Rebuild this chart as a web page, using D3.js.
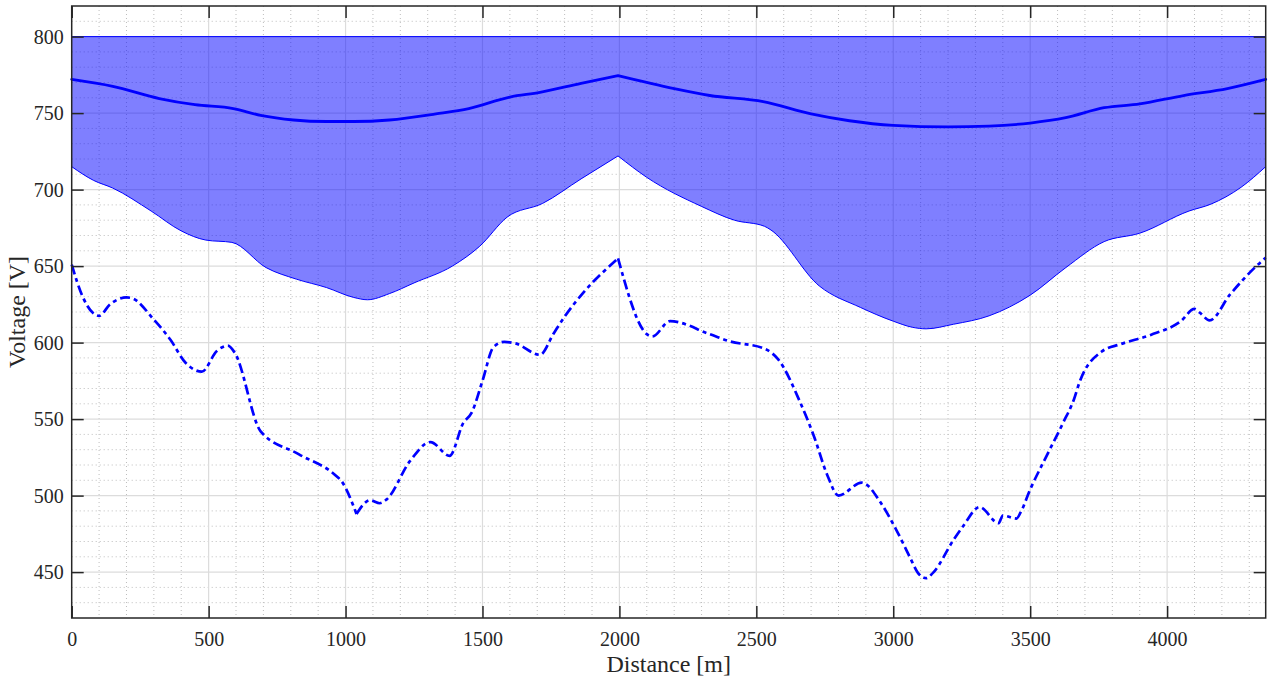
<!DOCTYPE html>
<html>
<head>
<meta charset="utf-8">
<script src="https://cdn.jsdelivr.net/npm/d3@7"></script>
<style>
  html, body { margin: 0; padding: 0; background: #fff; }
  svg { display: block; }
</style>
</head>
<body>
<svg id="chart" width="1269" height="680"></svg>
<script>
// Distance along the line [m] and voltage profiles [V]
const bandTop = 800;

const meanDist = [0, 150, 320, 450, 590, 690, 810, 930, 1030, 1160, 1330, 1450, 1600, 1710, 1860, 1995,
  2200, 2330, 2525, 2700, 2840, 3000, 3200, 3350, 3500, 3630, 3770, 3900, 4060, 4220, 4360];
const meanVolt = [772, 767.5, 759.5, 755.5, 753, 748.5, 745.5, 744.5, 744.5, 745.5, 749.5, 753, 760.5, 763.5, 769.5, 774.5,
  766, 761.5, 757.5, 749.5, 745, 742, 741, 741.5, 743.5, 747, 753.5, 756, 761.5, 766, 772];
const meanCorners = [1995];

const lowDist = [0, 80, 150, 290, 400, 490, 585, 710, 820, 930, 1030, 1080, 1160, 1250, 1390, 1490, 1590, 1720, 1860, 1995,
  2100, 2300, 2420, 2530, 2550, 2730, 2880, 3000, 3070, 3120, 3220, 3350, 3500, 3630, 3770, 3900, 4080, 4160, 4270, 4360];
const lowVolt = [715, 706, 701, 686, 673, 667, 665.5, 649, 641.5, 636, 629.5, 628, 632, 639, 650, 663, 682, 691, 707, 722,
  708, 689, 680, 676, 674, 637, 623, 614, 610, 609, 612, 617.5, 631, 649, 666, 671.5, 686, 690.5, 701.5, 715];
const lowCorners = [1995];

const minDist = [0, 40, 100, 140, 200, 220, 300, 360, 415, 475, 530, 570, 595, 690, 830, 965, 985, 1040, 1090, 1125, 1150,
  1235, 1310, 1380, 1430, 1460, 1500, 1540, 1580, 1620, 1710, 1760, 1800, 1870, 1995, 2100, 2120, 2185, 2330, 2400,
  2530, 2580, 2660, 2710, 2760, 2800, 2885, 2900, 2950, 3010, 3060, 3090, 3120, 3145, 3220, 3255, 3315, 3385, 3400, 3450,
  3465, 3500, 3560, 3620, 3660, 3680, 3760, 3830, 3940, 4050, 4100, 4120, 4155, 4230, 4320, 4360];
const minVolt = [651, 630, 617.5, 625, 629.5, 629, 615, 602, 587, 581, 594.5, 598, 593.5, 542, 527, 513, 509.5, 488, 497, 495, 497.5,
  522.5, 535, 526, 547.5, 554, 575, 597, 600.5, 599.5, 592, 606, 617, 633, 655, 605.5, 604, 614, 605.5, 601,
  596, 589, 561, 539, 513, 500, 508.5, 507.5, 496.5, 478, 460, 449.5, 446, 449.5, 471, 480, 492.5, 482, 487, 485,
  489, 504, 526, 547.5, 563, 574, 594, 599, 605, 614, 622, 619.5, 614.5, 631.5, 649, 655.5];
const minCorners = [1040, 1995];

const xTicks = [0, 500, 1000, 1500, 2000, 2500, 3000, 3500, 4000];
const yTicks = [450, 500, 550, 600, 650, 700, 750, 800];
const xDomain = [0, 4360];
const yDomain = [420, 820];

const svg = d3.select("#chart");
const plotL = 71.7, plotR = 1265.7, plotT = 6, plotB = 618;
const x = d3.scaleLinear().domain(xDomain).range([plotL, plotR]);
const y = d3.scaleLinear().domain(yDomain).range([plotB, plotT]);
const serif = "'Liberation Serif', 'Times New Roman', serif";

// Split a profile into smooth pieces that meet at sharp corners
function pieces(dist, volt, corners) {
  const out = [];
  let cur = [];
  dist.forEach((d, i) => {
    cur.push([d, volt[i]]);
    if (corners.includes(d)) { out.push(cur); cur = [[d, volt[i]]]; }
  });
  out.push(cur);
  return out;
}

// Grid: dotted minor lines, solid light major lines
const grid = svg.append("g");
const xMinor = d3.range(100, xDomain[1], 100).filter(v => v % 500 !== 0);
const yMinor = d3.range(430, yDomain[1], 10).filter(v => v % 50 !== 0);
grid.selectAll(".xm").data(xMinor).join("line")
  .attr("x1", d => x(d)).attr("x2", d => x(d)).attr("y1", plotT).attr("y2", plotB)
  .attr("stroke", "#bdbdbd").attr("stroke-width", 1).attr("stroke-dasharray", "1,3");
grid.selectAll(".ym").data(yMinor).join("line")
  .attr("x1", plotL).attr("x2", plotR).attr("y1", d => y(d)).attr("y2", d => y(d))
  .attr("stroke", "#bdbdbd").attr("stroke-width", 1).attr("stroke-dasharray", "1,3");
grid.selectAll(".xM").data(xTicks.filter(d => d > 0)).join("line")
  .attr("x1", d => x(d)).attr("x2", d => x(d)).attr("y1", plotT).attr("y2", plotB)
  .attr("stroke", "#dcdcdc").attr("stroke-width", 1.2);
grid.selectAll(".yM").data(yTicks).join("line")
  .attr("x1", plotL).attr("x2", plotR).attr("y1", d => y(d)).attr("y2", d => y(d))
  .attr("stroke", "#dcdcdc").attr("stroke-width", 1.2);

const line = d3.line().x(d => x(d[0])).y(d => y(d[1])).curve(d3.curveMonotoneX);
const area = d3.area().x(d => x(d[0])).y0(d => y(d[1])).y1(y(bandTop)).curve(d3.curveMonotoneX);

// Translucent band between the lower limit and the 800 V ceiling
const lowPieces = pieces(lowDist, lowVolt, lowCorners);
svg.append("path").attr("d", lowPieces.map(p => area(p)).join(""))
  .attr("fill", "#0000ff").attr("fill-opacity", 0.5).attr("stroke", "none");
svg.append("path").attr("d", lowPieces.map(p => line(p)).join(""))
  .attr("fill", "none").attr("stroke", "#0000ff").attr("stroke-width", 1);
svg.append("line").attr("x1", x(xDomain[0])).attr("x2", x(xDomain[1]))
  .attr("y1", y(bandTop)).attr("y2", y(bandTop))
  .attr("stroke", "#0000ff").attr("stroke-width", 1);

// Mean voltage (solid) and minimum voltage (dash-dot)
svg.append("path").attr("d", pieces(meanDist, meanVolt, meanCorners).map(p => line(p)).join(""))
  .attr("fill", "none").attr("stroke", "#0000ff").attr("stroke-width", 2.8)
  .attr("stroke-linejoin", "round").attr("stroke-linecap", "round");
svg.append("g").selectAll("path").data(pieces(minDist, minVolt, minCorners)).join("path").attr("d", line)
  .attr("fill", "none").attr("stroke", "#0000ff").attr("stroke-width", 2.7)
  .attr("stroke-dasharray", "10,4,4,4").attr("stroke-linejoin", "round");

// Axes box with inward ticks on all four sides
const axisColor = "#262626";
const tickLen = 12;
const fmt = d3.format("d");
const xAxisB = d3.axisBottom(x).tickValues(xTicks).tickFormat(fmt).tickSizeInner(-tickLen).tickSizeOuter(0).tickPadding(14);
const yAxisL = d3.axisLeft(y).tickValues(yTicks).tickFormat(fmt).tickSizeInner(-tickLen).tickSizeOuter(0).tickPadding(8);
const xAxisT = d3.axisTop(x).tickValues(xTicks).tickSizeInner(-tickLen).tickSizeOuter(0).tickFormat("");
const yAxisR = d3.axisRight(y).tickValues(yTicks).tickSizeInner(-tickLen).tickSizeOuter(0).tickFormat("");

function styleAxis(g) {
  g.attr("font-family", serif).attr("font-size", 20);
  g.select(".domain").remove();
  g.selectAll(".tick line").attr("stroke", axisColor).attr("stroke-width", 1.5);
  g.selectAll(".tick text").attr("fill", axisColor);
}
svg.append("g").attr("transform", `translate(0,${plotB})`).call(xAxisB).call(styleAxis);
svg.append("g").attr("transform", `translate(${plotL},0)`).call(yAxisL).call(styleAxis);
svg.append("g").attr("transform", `translate(0,${plotT})`).call(xAxisT).call(styleAxis);
svg.append("g").attr("transform", `translate(${plotR},0)`).call(yAxisR).call(styleAxis);

svg.append("rect").attr("x", plotL).attr("y", plotT).attr("width", plotR - plotL).attr("height", plotB - plotT)
  .attr("fill", "none").attr("stroke", axisColor).attr("stroke-width", 1.5);

// Axis titles
svg.append("text").attr("x", (plotL + plotR) / 2).attr("y", 672)
  .attr("text-anchor", "middle").attr("font-family", serif).attr("font-size", 24)
  .attr("fill", axisColor).text("Distance [m]");
svg.append("text").attr("transform", `translate(25,${(plotT + plotB) / 2}) rotate(-90)`)
  .attr("text-anchor", "middle").attr("font-family", serif).attr("font-size", 24)
  .attr("fill", axisColor).text("Voltage [V]");
</script>
</body>
</html>
